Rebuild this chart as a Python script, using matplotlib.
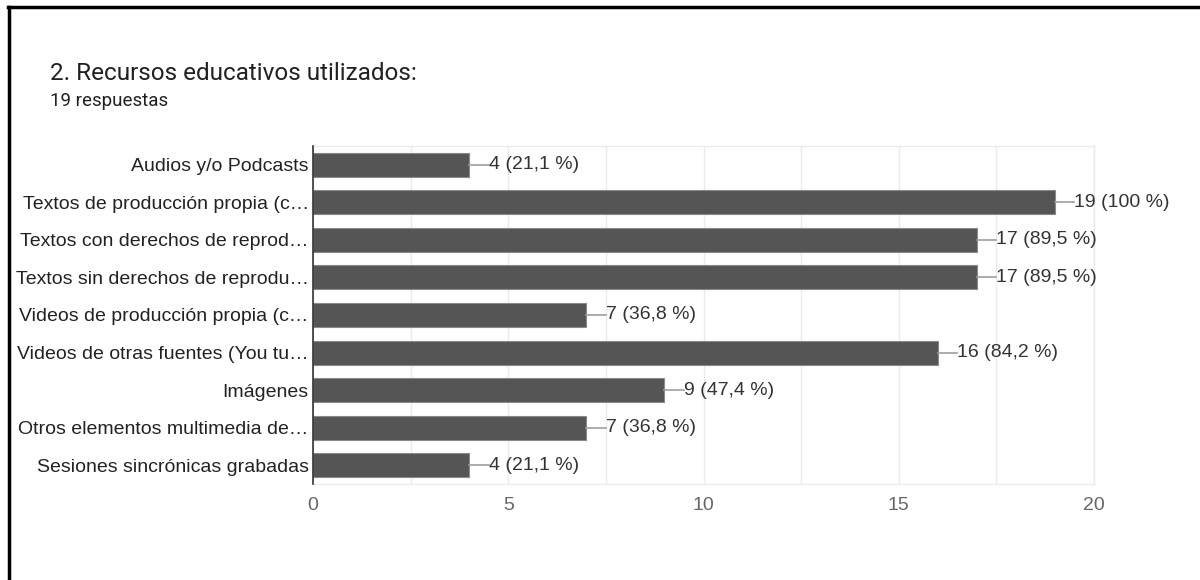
import matplotlib
matplotlib.use("Agg")
import matplotlib.pyplot as plt
from matplotlib.lines import Line2D
import numpy as np

plt.rcParams['font.family'] = ['Liberation Sans', 'DejaVu Sans']

categories = [
    "Audios y/o Podcasts",
    "Textos de producción propia (c…",
    "Textos con derechos de reprod…",
    "Textos sin derechos de reprodu…",
    "Videos de producción propia (c…",
    "Videos de otras fuentes (You tu…",
    "Imágenes",
    "Otros elementos multimedia de…",
    "Sesiones sincrónicas grabadas",
]
counts = [4, 19, 17, 17, 7, 16, 9, 7, 4]
pct_labels = ["21,1 %", "100 %", "89,5 %", "89,5 %", "36,8 %", "84,2 %", "47,4 %", "36,8 %", "21,1 %"]
xticks = [0, 5, 10, 15, 20]

fig = plt.figure(figsize=(12, 5.8), dpi=100)
ax = fig.add_axes([313/1200, 1-484/580, (1094-313)/1200, (484-146)/580])

y = np.arange(len(categories))
ax.barh(y, counts, height=0.64, color="#555555", edgecolor="#8a8a8a", linewidth=0.8, zorder=3)
ax.set_ylim(len(categories)-0.5, -0.5)
ax.set_xlim(0, 20)

for yi, c, p in zip(y, counts, pct_labels):
    ax.plot([c, c + 0.5], [yi, yi], color="#9e9e9e", lw=1.2, zorder=4, clip_on=False)
    ax.text(c + 0.5, yi, f"{c} ({p})", va="center", ha="left", fontsize=14, color="#333333", zorder=5)

ax.set_yticks(y)
ax.set_yticklabels(categories, fontsize=14, color="#222222")
ax.set_xticks(xticks)
ax.set_xticklabels([str(t) for t in xticks], fontsize=14, color="#666666")
ax.set_xticks(np.arange(0, 20.01, 2.5), minor=True)
ax.tick_params(axis="y", length=0, pad=3)
ax.tick_params(axis="x", which="both", length=0, pad=9)
ax.grid(axis="x", which="both", color="#ebebeb", lw=1, zorder=0)
for s in ["top", "right", "bottom"]:
    ax.spines[s].set_color("#ebebeb")
    ax.spines[s].set_linewidth(1)
ax.spines["left"].set_color("#333333")
ax.spines["left"].set_linewidth(1.2)
ax.spines["left"].set_zorder(6)

fig.text(50/1200, 1-73/580, "2. Recursos educativos utilizados:", fontsize=17.5, color="#202124",
         va="center", ha="left", family=["Roboto", "DejaVu Sans"])
fig.text(50/1200, 1-101/580, "19 respuestas", fontsize=13.5, color="#202124",
         va="center", ha="left", family=["Roboto", "DejaVu Sans"])

# outer frame (top and left)
fig.add_artist(Line2D([8/1200, 1], [1-7/580, 1-7/580], color="black", lw=2.5, transform=fig.transFigure))
fig.add_artist(Line2D([9/1200, 9/1200], [0, 1-7/580], color="black", lw=2.5, transform=fig.transFigure))

fig.savefig("out.png", dpi=100)
